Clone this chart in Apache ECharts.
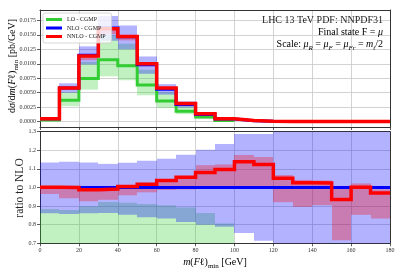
<!DOCTYPE html>
<html><head><meta charset="utf-8">
<script src="https://cdn.jsdelivr.net/npm/echarts@6/dist/echarts.min.js"></script>
<style>html,body{margin:0;padding:0;background:#fff}#c{width:407px;height:271px}</style>
</head><body><div id="c"></div>
<script>
// ---------- data ----------
const binEdges = [0,10,20,30,40,50,60,70,80,90,100,110,120,130,140,150,160,170,180];
const xTicks = [0,20,40,60,80,100,120,140,160,180];
const topYTicks = [0,0.0025,0.0050,0.0075,0.0100,0.0125,0.0150,0.0175];
const ratioYTicks = [0.7,0.8,0.9,1.0,1.1,1.2,1.3];

// top panel: dσ/dm [pb/GeV]
const loValues   = [0.0003,0.0037,0.00745,0.01072,0.00965,0.00635,0.00359,0.00181,0.0008,0.0002,null,null,null,null,null,null,null,null];
const nloValues  = [0.0005,0.00583,0.01148,0.0162,0.01467,0.00985,0.00562,0.00298,0.00125,0.00046,0.000176,0.000053,0.00004,0.00003,0.00002,0.000015,0.00001,0.00001];
const nnloValues = [0.0005,0.00583,0.01134,0.01607,0.01474,0.01003,0.00583,0.00314,0.00135,0.0005,0.0002,0.00006,0.00004,0.00003,0.00002,0.000015,0.00001,0.00001];

const loBandLow   = [0.0002,0.00267,0.00555,0.00784,0.00716,0.00457,0.00238,0.00129,0.0005,0.0001,null,null,null,null,null,null,null,null];
const loBandHigh  = [0.00044,0.00512,0.01032,0.01494,0.01347,0.00897,0.00508,0.00266,0.00108,0.00037,null,null,null,null,null,null,null,null];
const nloBandLow  = [0.00043,0.0050,0.00988,0.01398,0.01251,0.00827,0.00467,0.00243,0.0010,0.00036,0.000133,0.00004,0.00003,0.00002,0.00001,0.00001,0.000006,0.000006];
const nloBandHigh = [0.00057,0.00663,0.01302,0.01826,0.01662,0.01127,0.00649,0.0035,0.0015,0.00057,0.000226,0.00007,0.00006,0.00004,0.00003,0.00002,0.000014,0.000014];
const nnloBandLow = [0.00048,0.00549,0.01063,0.01513,0.01405,0.00959,0.00555,0.00295,0.00124,0.00046,0.00018,0.00005,0.00004,0.00003,0.00002,0.00001,0.00001,0.00001];
const nnloBandHigh= [0.0005,0.00585,0.01139,0.01612,0.01477,0.01005,0.00584,0.00316,0.0014,0.00052,0.00021,0.00006,0.00004,0.00003,0.00002,0.000015,0.00001,0.00001];

// ratio panel: ratio to NLO
const loRatio   = [0.6,0.635,0.649,0.662,0.658,0.645,0.639,0.607,0.64,0.43,null,null,null,null,null,null,null,null];
const nloRatio  = [1,1,1,1,1,1,1,1,1,1,1,1,1,1,1,1,1,1];
const nnloRatio = [1.001,1.0,0.988,0.992,1.005,1.018,1.037,1.055,1.08,1.097,1.138,1.123,1.05,1.026,1.024,0.936,1.002,0.971];

const loRatioLow    = [0.4,0.46,0.48,0.48,0.49,0.46,0.42,0.43,0.4,0.22,null,null,null,null,null,null,null,null];
const loRatioHigh   = [0.884,0.879,0.899,0.922,0.918,0.911,0.904,0.893,0.863,0.807,null,null,null,null,null,null,null,null];
const nloRatioLow   = [0.861,0.858,0.861,0.863,0.853,0.84,0.833,0.815,0.80,0.789,0.755,0.714,0.6,0.6,0.6,0.6,0.6,0.6];
const nloRatioHigh  = [1.135,1.138,1.134,1.127,1.133,1.144,1.155,1.176,1.203,1.234,1.287,1.287,1.4,1.4,1.4,1.4,1.4,1.4];
const nnloRatioLow  = [0.965,0.942,0.926,0.934,0.958,0.974,0.987,0.99,0.995,1.0,1.006,1.006,0.921,0.896,0.905,0.716,0.853,0.833];
const nnloRatioHigh = [1.005,1.003,0.992,0.995,1.007,1.02,1.04,1.06,1.12,1.124,1.175,1.164,1.067,1.041,1.038,0.996,1.022,0.99];

// ---------- style ----------
const GREEN = '#32cd32', BLUE = '#0000ff', RED = '#ff0000';
const FONT = 'Liberation Serif';
const AXC = '#333';
const GRIDC = '#c8c8c8';

function stepData(vals) {
  const out = [];
  for (let i = 0; i < vals.length; i++) {
    if (vals[i] == null) { if (out.length && out[out.length-1] !== null) out.push(null); continue; }
    out.push([binEdges[i], vals[i]]);
    if (i === vals.length - 1 || vals[i+1] == null) out.push([binEdges[i+1], vals[i]]);
  }
  return out;
}
function lineSeries(name, vals, color, width, xi, yi, z) {
  return { type:'line', name, xAxisIndex:xi, yAxisIndex:yi, data: stepData(vals), step:'end',
    showSymbol:false, symbol:'none', connectNulls:false, clip:true, z, animation:false,
    lineStyle:{color, width, cap:'butt', join:'miter'}, itemStyle:{color}, emphasis:{disabled:true} };
}
function bandSeries(lows, highs, color, xi, yi, z) {
  const data = [];
  lows.forEach((l,i) => { if (l != null && highs[i] != null) data.push([binEdges[i], binEdges[i+1], l, highs[i]]); });
  return { type:'custom', xAxisIndex:xi, yAxisIndex:yi, z, animation:false, silent:true,
    encode:{x:[0,1], y:[2,3]}, data,
    renderItem(params, api) {
      const p0 = api.coord([api.value(0), api.value(3)]);
      const p1 = api.coord([api.value(1), api.value(2)]);
      const x0 = Math.round(p0[0]), x1 = Math.round(p1[0]);
      const cs = params.coordSys;
      const r = echarts.graphic.clipRectByRect({x:x0, y:p0[1], width:x1-x0, height:p1[1]-p0[1]},
        {x:cs.x, y:cs.y, width:cs.width, height:cs.height});
      return r ? {type:'rect', shape:r, style:{fill:color}} : null;
    } };
}
function xAx(gi, withLabels) {
  return { gridIndex:gi, type:'value', min:0, max:180, interval:20, position:'bottom',
    axisLine:{show:true, onZero:false, lineStyle:{color:AXC, width:1}},
    axisTick:{show:true, length:3, lineStyle:{color:AXC, width:0.8}},
    axisLabel:{show:withLabels, fontFamily:FONT, fontSize:6, color:'#333', margin:4},
    splitLine:{show:true, lineStyle:{color:GRIDC, width:0.8}} };
}
function frameX(gi) {
  return { gridIndex:gi, type:'value', min:0, max:180, position:'top',
    axisLine:{show:true, onZero:false, lineStyle:{color:AXC, width:1}},
    axisTick:{show:false}, axisLabel:{show:false}, splitLine:{show:false} };
}
function frameY(gi, mn, mx) {
  return { gridIndex:gi, type:'value', min:mn, max:mx, position:'right',
    axisLine:{show:true, onZero:false, lineStyle:{color:AXC, width:1}},
    axisTick:{show:false}, axisLabel:{show:false}, splitLine:{show:false} };
}

const chart = echarts.init(document.getElementById('c'), null, {renderer:'canvas'});
const rich = {
  n:{fontFamily:FONT, fontSize:10, color:'#222'},
  i:{fontFamily:FONT, fontSize:10, fontStyle:'italic', color:'#222'},
  s:{fontFamily:FONT, fontSize:7, color:'#222', verticalAlign:'bottom', padding:[0,0,-3,0]},
  si:{fontFamily:FONT, fontSize:7, fontStyle:'italic', color:'#222', verticalAlign:'bottom', padding:[0,0,-3,0]}
};

chart.setOption({
  animation:false,
  backgroundColor:'#fff',
  grid:[
    {left:40, top:10, width:350, height:117, show:false},
    {left:40, top:131.7, width:350, height:111.6, show:false}
  ],
  xAxis:[ xAx(0,false), frameX(0), xAx(1,true), frameX(1) ],
  yAxis:[
    { gridIndex:0, type:'value', min:-0.00092, max:0.0193, position:'left',
      axisLine:{show:true, onZero:false, lineStyle:{color:AXC, width:1}},
      axisTick:{show:true, length:3, customValues:topYTicks, lineStyle:{color:AXC, width:0.8}},
      axisLabel:{show:true, customValues:topYTicks, formatter:v=>v.toFixed(4), fontFamily:FONT, fontSize:6, color:'#333', margin:4},
      splitLine:{show:true, lineStyle:{color:GRIDC, width:0.8}} },
    frameY(0,-0.00092,0.0193),
    { gridIndex:1, type:'value', min:0.7, max:1.3, interval:0.1, position:'left',
      axisLine:{show:true, onZero:false, lineStyle:{color:AXC, width:1}},
      axisTick:{show:true, length:3, lineStyle:{color:AXC, width:0.8}},
      axisLabel:{show:true, formatter:v=>v.toFixed(1), fontFamily:FONT, fontSize:6, color:'#333', margin:4},
      splitLine:{show:true, lineStyle:{color:GRIDC, width:0.8}} },
    frameY(1,0.7,1.3)
  ],
  legend:{ left:43, top:13, orient:'vertical', icon:'rect', itemWidth:16, itemHeight:3, itemGap:1.5,
    padding:[3,6,3,3], backgroundColor:'rgba(255,255,255,0.8)', borderColor:'#cccccc', borderWidth:0.8, borderRadius:2,
    textStyle:{fontFamily:FONT, fontSize:6, color:'#222', lineHeight:7, padding:[0,0,0,0]},
    data:['LO - CGMP','NLO - CGMP','NNLO - CGMP'], selectedMode:false },
  series:[
    bandSeries(loBandLow, loBandHigh, 'rgba(50,205,50,0.3)', 0, 0, 1),
    bandSeries(nloBandLow, nloBandHigh, 'rgba(0,0,255,0.3)', 0, 0, 1),
    bandSeries(nnloBandLow, nnloBandHigh, 'rgba(255,0,0,0.3)', 0, 0, 1),
    lineSeries('LO - CGMP', loValues, GREEN, 3, 0, 0, 3),
    lineSeries('NLO - CGMP', nloValues, BLUE, 3, 0, 0, 3),
    lineSeries('NNLO - CGMP', nnloValues, RED, 3.5, 0, 0, 3),
    bandSeries(loRatioLow, loRatioHigh, 'rgba(50,205,50,0.3)', 2, 2, 1),
    bandSeries(nloRatioLow, nloRatioHigh, 'rgba(0,0,255,0.3)', 2, 2, 1),
    bandSeries(nnloRatioLow, nnloRatioHigh, 'rgba(255,0,0,0.3)', 2, 2, 1),
    lineSeries('LO - CGMP', loRatio, GREEN, 3, 2, 2, 3),
    lineSeries('NLO - CGMP', nloRatio, BLUE, 3, 2, 2, 3),
    lineSeries('NNLO - CGMP', nnloRatio, RED, 3.5, 2, 2, 3)
  ],
  graphic:[
    { type:'text', x:383, y:15, z:100, style:{ text:'LHC 13 TeV PDF: NNPDF31', fontFamily:FONT, fontSize:10, fill:'#222', align:'right', verticalAlign:'top' } },
    { type:'text', x:383, y:27, z:100, style:{ text:'{n|Final state F = }{i|μ}', rich, align:'right', verticalAlign:'top' } },
    { type:'text', x:383, y:39, z:100, style:{ text:'{n|Scale: }{i|μ}{si|R}{n| = }{i|μ}{si|F}{n| = }{i|μ}{si|Fr}{n| = }{i|m}{si|t}{n|/2}', rich, align:'right', verticalAlign:'top' } },
    { type:'text', x:12, y:66, rotation:Math.PI/2, z:100, style:{ text:'{n|d}{i|σ}{n|/d}{i|m}{n|(}{i|F}{n|ℓ)}{s|min}{n| [pb/GeV]}', rich, align:'center', verticalAlign:'middle' } },
    { type:'text', x:20, y:188, rotation:Math.PI/2, z:100, style:{ text:'ratio to NLO', fontFamily:FONT, fontSize:11.5, fill:'#222', align:'center', verticalAlign:'middle' } },
    { type:'text', x:215, y:262, z:100, style:{ text:'{i|m}{n|(}{i|F}{n|ℓ)}{s|min}{n| [GeV]}', rich, align:'center', verticalAlign:'middle' } }
  ]
});
</script></body></html>
